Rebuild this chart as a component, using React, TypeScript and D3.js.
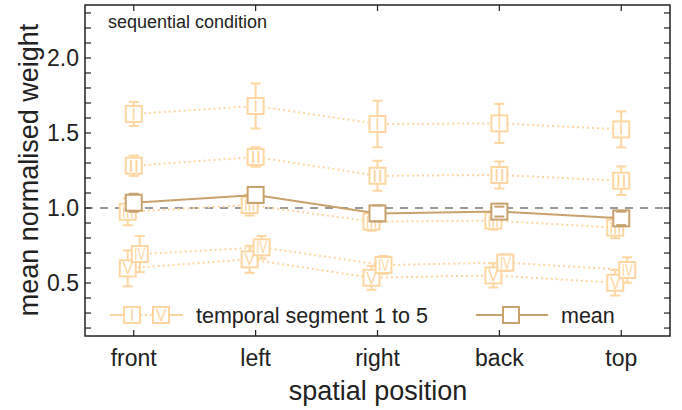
import React, { useEffect, useRef } from "react";
import * as d3 from "d3";

const positions = ["front", "left", "right", "back", "top"];
const segmentNames = ["I", "II", "III", "IV", "V"];
// mean normalised weight for temporal segment I..V at each position
const segI = [1.627, 1.68, 1.56, 1.564, 1.524];
const segII = [1.282, 1.34, 1.215, 1.22, 1.182];
const segIII = [0.975, 1.02, 0.909, 0.916, 0.869];
const segIV = [0.693, 0.738, 0.62, 0.636, 0.587];
const segV = [0.598, 0.658, 0.535, 0.551, 0.502];
const errI = [0.08, 0.15, 0.155, 0.13, 0.12];
const errII = [0.068, 0.065, 0.1, 0.09, 0.095];
const errIII = [0.09, 0.07, 0.06, 0.06, 0.07];
const errIV = [0.12, 0.075, 0.06, 0.055, 0.085];
const errV = [0.12, 0.09, 0.08, 0.08, 0.085];
const meanVals = [1.035, 1.087, 0.964, 0.976, 0.931];
const meanErr = [0.06, 0.053, 0.053, 0.033, 0.045];
const yTicks = [0.5, 1.0, 1.5, 2.0];

const light = "#fdd6a2";
const dark = "#c9a16d";

export default function App() {
  const ref = useRef<SVGSVGElement>(null);

  useEffect(() => {
    const svg = d3.select(ref.current);
    svg.selectAll("*").remove();
    const font = "'Liberation Sans', Arial, sans-serif";
    const left = 85, top = 5, right = 670, bottom = 336;

    const x = d3.scaleLinear().domain([0.6, 5.4]).range([left, right]);
    const y = d3.scaleLinear().domain([0.147, 2.353]).range([bottom, top]);
    const xi = (i: number) => x(i + 1);

    const segs = [segI, segII, segIII, segIV, segV];
    const errs = [errI, errII, errIII, errIV, errV];
    const offs = [0, 0, -6, 6, -6];

    // reference line
    svg.append("line")
      .attr("x1", left).attr("x2", right)
      .attr("y1", y(1)).attr("y2", y(1))
      .attr("stroke", "#9a9a9a").attr("stroke-width", 2)
      .attr("stroke-dasharray", "8,7");

    const marker = (g: any, cx: number, cy: number, color: string, label: string | null) => {
      g.append("rect")
        .attr("x", cx - 8).attr("y", cy - 8)
        .attr("width", 16).attr("height", 16)
        .attr("fill", "white").attr("stroke", color).attr("stroke-width", 2);
      if (label) {
        g.append("text")
          .attr("x", cx).attr("y", cy + 6)
          .attr("text-anchor", "middle")
          .attr("font-family", font).attr("font-size", 16)
          .attr("fill", color)
          .attr("textLength", label.length > 2 ? 12 : label.length > 1 ? 11 : null)
          .attr("lengthAdjust", "spacingAndGlyphs")
          .text(label);
      }
    };

    const stem = (g: any, cx: number, v: number, e: number, color: string) => {
      g.append("line").attr("x1", cx).attr("x2", cx)
        .attr("y1", y(v + e)).attr("y2", y(v - e))
        .attr("stroke", color).attr("stroke-width", 2);
    };
    const caps = (g: any, cx: number, v: number, e: number, color: string) => {
      [v + e, v - e].forEach((w) => {
        g.append("line").attr("x1", cx - 5).attr("x2", cx + 5)
          .attr("y1", y(w)).attr("y2", y(w))
          .attr("stroke", color).attr("stroke-width", 2);
      });
    };

    const line = d3.line<number>()
      .x((d, i) => xi(i))
      .y((d) => y(d));

    // temporal segments, V drawn first
    for (let s = segs.length - 1; s >= 0; s--) {
      const g = svg.append("g");
      const ln = d3.line<number>().x((d, i) => xi(i) + offs[s]).y((d) => y(d));
      g.append("path").attr("d", ln(segs[s]))
        .attr("fill", "none").attr("stroke", light).attr("stroke-width", 2)
        .attr("stroke-dasharray", "2,3");
      segs[s].forEach((v, i) => {
        stem(g, xi(i) + offs[s], v, errs[s][i], light);
        caps(g, xi(i) + offs[s], v, errs[s][i], light);
        marker(g, xi(i) + offs[s], y(v), light, segmentNames[s]);
      });
    }

    // mean
    const gm = svg.append("g");
    gm.append("path").attr("d", line(meanVals))
      .attr("fill", "none").attr("stroke", dark).attr("stroke-width", 2);
    meanVals.forEach((v, i) => {
      stem(gm, xi(i), v, meanErr[i], dark);
      marker(gm, xi(i), y(v), dark, null);
      caps(gm, xi(i), v, meanErr[i], dark);
    });

    // frame and ticks
    svg.append("rect").attr("x", left).attr("y", top)
      .attr("width", right - left).attr("height", bottom - top)
      .attr("fill", "none").attr("stroke", "#222").attr("stroke-width", 1.5);

    const minor = d3.range(2, 24).map((d) => d / 10);
    minor.forEach((t) => {
      [[left, left + 6], [right, right - 6]].forEach(([a, b]) => {
        svg.append("line").attr("x1", a).attr("x2", b)
          .attr("y1", y(t)).attr("y2", y(t))
          .attr("stroke", "#222").attr("stroke-width", 1.2);
      });
    });
    positions.forEach((p, i) => {
      [[bottom, bottom - 6], [top, top + 6]].forEach(([a, b]) => {
        svg.append("line").attr("x1", xi(i)).attr("x2", xi(i))
          .attr("y1", a).attr("y2", b)
          .attr("stroke", "#222").attr("stroke-width", 1.2);
      });
      svg.append("text").attr("x", xi(i)).attr("y", 366)
        .attr("text-anchor", "middle").attr("font-family", font)
        .attr("font-size", 23).attr("fill", "#222").text(p);
    });
    yTicks.forEach((t) => {
      svg.append("text").attr("x", left - 6).attr("y", y(t) + 8)
        .attr("text-anchor", "end").attr("font-family", font)
        .attr("font-size", 23).attr("fill", "#222").text(t.toFixed(1));
    });

    svg.append("text").attr("x", 378).attr("y", 400)
      .attr("text-anchor", "middle").attr("font-family", font)
      .attr("font-size", 27).attr("fill", "#222").text("spatial position");
    svg.append("text")
      .attr("transform", `translate(38,170) rotate(-90)`)
      .attr("text-anchor", "middle").attr("font-family", font)
      .attr("font-size", 27).attr("fill", "#222").text("mean normalised weight");

    svg.append("text").attr("x", 108).attr("y", 28)
      .attr("font-family", font).attr("font-size", 18).attr("fill", "#222")
      .text("sequential condition");

    // legend
    const ly = 315;
    const gl = svg.append("g");
    gl.append("line").attr("x1", 110).attr("x2", 124).attr("y1", ly).attr("y2", ly)
      .attr("stroke", light).attr("stroke-width", 2);
    gl.append("line").attr("x1", 140).attr("x2", 153).attr("y1", ly).attr("y2", ly)
      .attr("stroke", light).attr("stroke-width", 2).attr("stroke-dasharray", "2,3");
    gl.append("line").attr("x1", 169).attr("x2", 183).attr("y1", ly).attr("y2", ly)
      .attr("stroke", light).attr("stroke-width", 2);
    marker(gl, 132, ly, light, "I");
    marker(gl, 161, ly, light, "V");
    gl.append("text").attr("x", 196).attr("y", ly + 8)
      .attr("font-family", font).attr("font-size", 21.5).attr("fill", "#222")
      .text("temporal segment 1 to 5");
    gl.append("line").attr("x1", 476).attr("x2", 548).attr("y1", ly).attr("y2", ly)
      .attr("stroke", dark).attr("stroke-width", 2);
    marker(gl, 511, ly, dark, null);
    gl.append("text").attr("x", 561).attr("y", ly + 8)
      .attr("font-family", font).attr("font-size", 21.5).attr("fill", "#222")
      .text("mean");
  }, []);

  return (
    <svg ref={ref} width={682} height={410}
      style={{ position: "absolute", left: 0, top: 0, background: "white" }} />
  );
}
